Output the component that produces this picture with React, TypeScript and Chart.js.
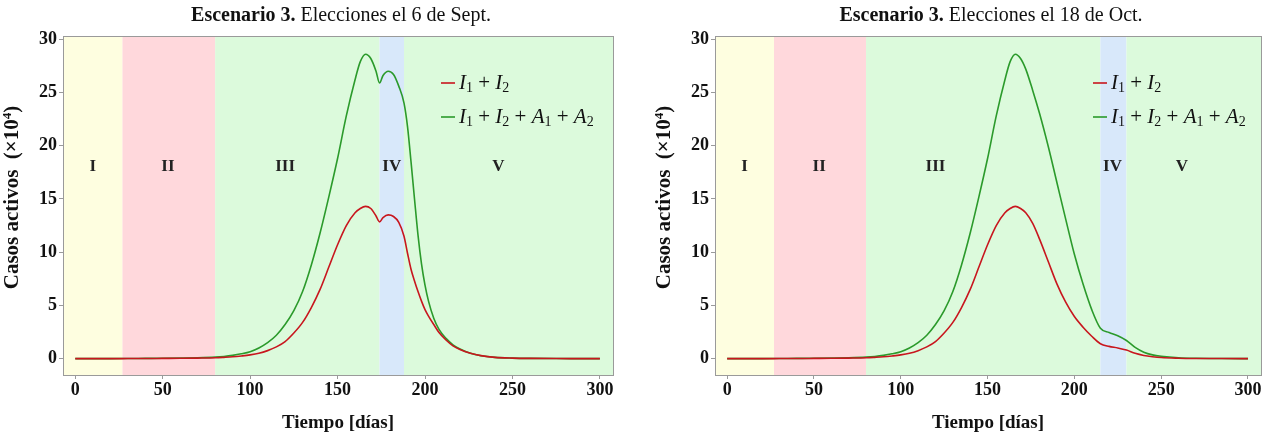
import React, { useEffect, useRef } from "react";
import { Chart, registerables } from "chart.js";

Chart.register(...registerables);

// ---------- DATA ----------
const X_TICKS = [0, 50, 100, 150, 200, 250, 300];
const Y_TICKS = [0, 5, 10, 15, 20, 25, 30];
const X_MIN = -7;
const X_MAX = 307.5;
const Y_MIN = -1.54;
const Y_MAX = 30.31;

// shared epidemic curve up to day 169 (x10^4 active cases)
const commonDays = [0, 10, 20, 30, 40, 50, 60, 70, 80, 85, 90, 95, 100, 105, 110, 115, 120, 125, 130, 135, 140, 145, 150, 155, 160, 163, 166, 169];
const commonRed = [0, 0, 0, 0.005, 0.01, 0.02, 0.03, 0.05, 0.08, 0.12, 0.17, 0.25, 0.35, 0.5, 0.75, 1.1, 1.6, 2.4, 3.4, 4.8, 6.5, 8.6, 10.7, 12.5, 13.7, 14.1, 14.3, 14.1];
const commonGreen = [0, 0, 0, 0.01, 0.02, 0.03, 0.05, 0.08, 0.14, 0.2, 0.3, 0.45, 0.65, 1.0, 1.5, 2.2, 3.2, 4.5, 6.3, 8.8, 11.8, 15.2, 18.8, 22.8, 26.2, 27.9, 28.6, 28.2];

// Scenario: elections on Sept 6
const sepDays = [172, 174, 176, 179, 182, 185, 188, 190, 192, 194, 196, 198, 200, 202, 205, 208, 212, 216, 220, 226, 232, 240, 250, 260, 275, 300];
const sepRed = [13.4, 12.85, 13.25, 13.5, 13.35, 12.8, 11.5, 9.9, 8.4, 7.3, 6.3, 5.4, 4.6, 4.0, 3.2, 2.45, 1.75, 1.2, 0.85, 0.5, 0.28, 0.12, 0.05, 0.02, 0.005, 0];
const sepGreen = [27.0, 25.9, 26.6, 27.0, 26.7, 25.6, 24.0, 21.8, 18.5, 15.0, 11.6, 8.9, 6.9, 5.4, 3.8, 2.75, 1.9, 1.3, 0.9, 0.5, 0.27, 0.12, 0.05, 0.02, 0.005, 0];

// Scenario: elections on Oct 18
const octDays = [172, 176, 180, 185, 190, 195, 200, 205, 210, 215, 220, 225, 230, 235, 240, 245, 250, 260, 270, 285, 300];
const octRed = [13.7, 12.7, 11.2, 9.1, 7.0, 5.3, 3.95, 2.95, 2.1, 1.4, 1.15, 1.0, 0.8, 0.5, 0.3, 0.18, 0.1, 0.04, 0.015, 0.005, 0];
const octGreen = [27.2, 25.2, 23.0, 19.9, 16.5, 13.1, 9.8, 7.0, 4.6, 2.85, 2.45, 2.15, 1.7, 1.05, 0.6, 0.35, 0.22, 0.08, 0.03, 0.01, 0];

// phases
const phaseNames = ["I", "II", "III", "IV", "V"];
const phaseColors = ["#fefee0", "#ffd8dc", "#dcfadc", "#d8e8fa", "#dcfadc"];
const sepBounds = [27, 80, 174, 188];
const octBounds = [27, 80, 215, 230];
const sepLabelDays = [10, 53, 120, 181, 242];
const octLabelDays = [10, 53, 120, 222, 262];
const PHASE_LABEL_VALUE = 18;

const sepTitle = ["Escenario 3.", " Elecciones el 6 de Sept."];
const octTitle = ["Escenario 3.", " Elecciones el 18 de Oct."];
const xTitle = "Tiempo [días]";
const yTitle = ["Casos activos  (×10", "4", ")"];

const RED = "#c8161e";
const GREEN = "#2b9a2b";
const FRAME = "#9a9a9a";
const SERIF = '"Liberation Serif", "Times New Roman", serif';

type Panel = {
  title: string[];
  days: number[];
  red: number[];
  green: number[];
  bounds: number[];
  labelDays: number[];
  yWidth: number;
  rightPad: number;
};

function drawMath(ctx: CanvasRenderingContext2D, x: number, y: number, parts: [string, string][]) {
  let cx = x;
  for (const [t, kind] of parts) {
    if (kind === "i") ctx.font = `italic 21px ${SERIF}`;
    else if (kind === "s") ctx.font = `14px ${SERIF}`;
    else ctx.font = `21px ${SERIF}`;
    const dy = kind === "s" ? 5 : 0;
    ctx.fillText(t, cx, y + dy);
    cx += ctx.measureText(t).width;
  }
}

const legendA: [string, string][] = [["I", "i"], ["1", "s"], [" + ", "n"], ["I", "i"], ["2", "s"]];
const legendB: [string, string][] = [["I", "i"], ["1", "s"], [" + ", "n"], ["I", "i"], ["2", "s"], [" + ", "n"], ["A", "i"], ["1", "s"], [" + ", "n"], ["A", "i"], ["2", "s"]];

function makeConfig(p: Panel): any {
  const toPts = (xs: number[], ys: number[]) => xs.map((x, i) => ({ x, y: ys[i] }));
  const redPts = toPts(commonDays.concat(p.days), commonRed.concat(p.red));
  const greenPts = toPts(commonDays.concat(p.days), commonGreen.concat(p.green));

  const decor = {
    id: "decor",
    beforeDraw(chart: any) {
      const { ctx, chartArea: a, scales } = chart;
      const xs = scales.x;
      const edges = [X_MIN, ...p.bounds, X_MAX];
      ctx.save();
      for (let i = 0; i < phaseColors.length; i++) {
        const x0 = xs.getPixelForValue(edges[i]);
        const x1 = xs.getPixelForValue(edges[i + 1]);
        ctx.fillStyle = phaseColors[i];
        ctx.fillRect(x0, a.top, x1 - x0, a.bottom - a.top);
      }
      ctx.restore();
    },
    beforeDatasetsDraw(chart: any) {
      const { ctx, scales } = chart;
      ctx.save();
      ctx.fillStyle = "#222";
      ctx.font = `bold 17px ${SERIF}`;
      ctx.textAlign = "center";
      ctx.textBaseline = "middle";
      const yy = scales.y.getPixelForValue(PHASE_LABEL_VALUE);
      phaseNames.forEach((n, i) => {
        ctx.fillText(n, scales.x.getPixelForValue(p.labelDays[i]), yy);
      });
      ctx.restore();
    },
    afterDraw(chart: any) {
      const { ctx, chartArea: a } = chart;
      ctx.save();
      // frame
      ctx.strokeStyle = FRAME;
      ctx.lineWidth = 1;
      ctx.strokeRect(Math.round(a.left) + 0.5, Math.round(a.top) + 0.5, Math.round(a.right - a.left), Math.round(a.bottom - a.top));
      const cx = (a.left + a.right) / 2 + 3;
      // title
      ctx.fillStyle = "#111";
      ctx.textBaseline = "middle";
      ctx.font = `bold 20px ${SERIF}`;
      const w0 = ctx.measureText(p.title[0]).width;
      ctx.font = `20px ${SERIF}`;
      const w1 = ctx.measureText(p.title[1]).width;
      const tx = cx - (w0 + w1) / 2;
      ctx.textAlign = "left";
      ctx.font = `bold 20px ${SERIF}`;
      ctx.fillText(p.title[0], tx, 16);
      ctx.font = `20px ${SERIF}`;
      ctx.fillText(p.title[1], tx + w0, 16);
      // x title
      ctx.font = `bold 19px ${SERIF}`;
      ctx.textAlign = "center";
      ctx.fillText(xTitle, (a.left + a.right) / 2, 423);
      // y title (rotated)
      ctx.save();
      const cy = (a.top + a.bottom) / 2 - 8;
      ctx.translate(a.left - 45, cy);
      ctx.rotate(-Math.PI / 2);
      ctx.textAlign = "left";
      ctx.textBaseline = "alphabetic";
      ctx.font = `bold 21px ${SERIF}`;
      const ya = ctx.measureText(yTitle[0]).width;
      const yc = ctx.measureText(yTitle[2]).width;
      ctx.font = `bold 13px ${SERIF}`;
      const yb = ctx.measureText(yTitle[1]).width;
      const sx = -(ya + yb + yc) / 2;
      ctx.font = `bold 21px ${SERIF}`;
      ctx.fillText(yTitle[0], sx, 0);
      ctx.font = `bold 13px ${SERIF}`;
      ctx.fillText(yTitle[1], sx + ya, -7);
      ctx.font = `bold 21px ${SERIF}`;
      ctx.fillText(yTitle[2], sx + ya + yb, 0);
      ctx.restore();
      // legend
      const lx = a.left + 378;
      const rows: [string, [string, string][], number][] = [
        [RED, legendA, a.top + 47],
        [GREEN, legendB, a.top + 81],
      ];
      ctx.textAlign = "left";
      ctx.textBaseline = "middle";
      for (const [col, parts, ry] of rows) {
        ctx.strokeStyle = col;
        ctx.lineWidth = 1.6;
        ctx.beginPath();
        ctx.moveTo(lx, ry);
        ctx.lineTo(lx + 14, ry);
        ctx.stroke();
        ctx.fillStyle = "#111";
        drawMath(ctx, lx + 18, ry, parts);
      }
      ctx.restore();
    },
  };

  return {
    type: "line",
    data: {
      datasets: [
        { label: "I1 + I2", data: redPts, borderColor: RED, borderWidth: 1.6, pointRadius: 0, cubicInterpolationMode: "monotone", fill: false },
        { label: "I1 + I2 + A1 + A2", data: greenPts, borderColor: GREEN, borderWidth: 1.6, pointRadius: 0, cubicInterpolationMode: "monotone", fill: false },
      ],
    },
    options: {
      animation: false,
      responsive: false,
      events: [],
      layout: { padding: { top: 36, right: p.rightPad, left: 0, bottom: 0 } },
      plugins: { legend: { display: false }, title: { display: false }, tooltip: { enabled: false } },
      scales: {
        x: {
          type: "linear",
          min: X_MIN,
          max: X_MAX,
          afterBuildTicks: (s: any) => { s.ticks = X_TICKS.map((v) => ({ value: v })); },
          afterFit: (s: any) => { s.height = 62; },
          grid: { drawOnChartArea: false, drawTicks: true, tickLength: 4, color: FRAME },
          border: { display: true, color: FRAME },
          ticks: { font: { family: SERIF, size: 18, weight: "bold" }, color: "#111", padding: 1, maxRotation: 0 },
        },
        y: {
          type: "linear",
          min: Y_MIN,
          max: Y_MAX,
          afterBuildTicks: (s: any) => { s.ticks = Y_TICKS.map((v) => ({ value: v })); },
          afterFit: (s: any) => { s.width = p.yWidth; },
          grid: { drawOnChartArea: false, drawTicks: true, tickLength: 4, color: FRAME },
          border: { display: true, color: FRAME },
          ticks: { font: { family: SERIF, size: 18, weight: "bold" }, color: "#111", padding: 2 },
        },
      },
    },
    plugins: [decor],
  };
}

function Panel(props: { panel: Panel; width: number }) {
  const ref = useRef<HTMLCanvasElement | null>(null);
  useEffect(() => {
    if (!ref.current) return;
    const chart = new Chart(ref.current, makeConfig(props.panel));
    return () => chart.destroy();
  }, []);
  return <canvas ref={ref} width={props.width} height={437} style={{ display: "block", width: props.width, height: 437 }} />;
}

const sepPanel: Panel = { title: sepTitle, days: sepDays, red: sepRed, green: sepGreen, bounds: sepBounds, labelDays: sepLabelDays, yWidth: 63, rightPad: 20 };
const octPanel: Panel = { title: octTitle, days: octDays, red: octRed, green: octGreen, bounds: octBounds, labelDays: octLabelDays, yWidth: 82, rightPad: 6 };

export default function App() {
  return (
    <div style={{ position: "fixed", left: 0, top: 0, width: 1267, height: 437, background: "#fff", display: "flex" }}>
      <Panel panel={sepPanel} width={633} />
      <Panel panel={octPanel} width={634} />
    </div>
  );
}
